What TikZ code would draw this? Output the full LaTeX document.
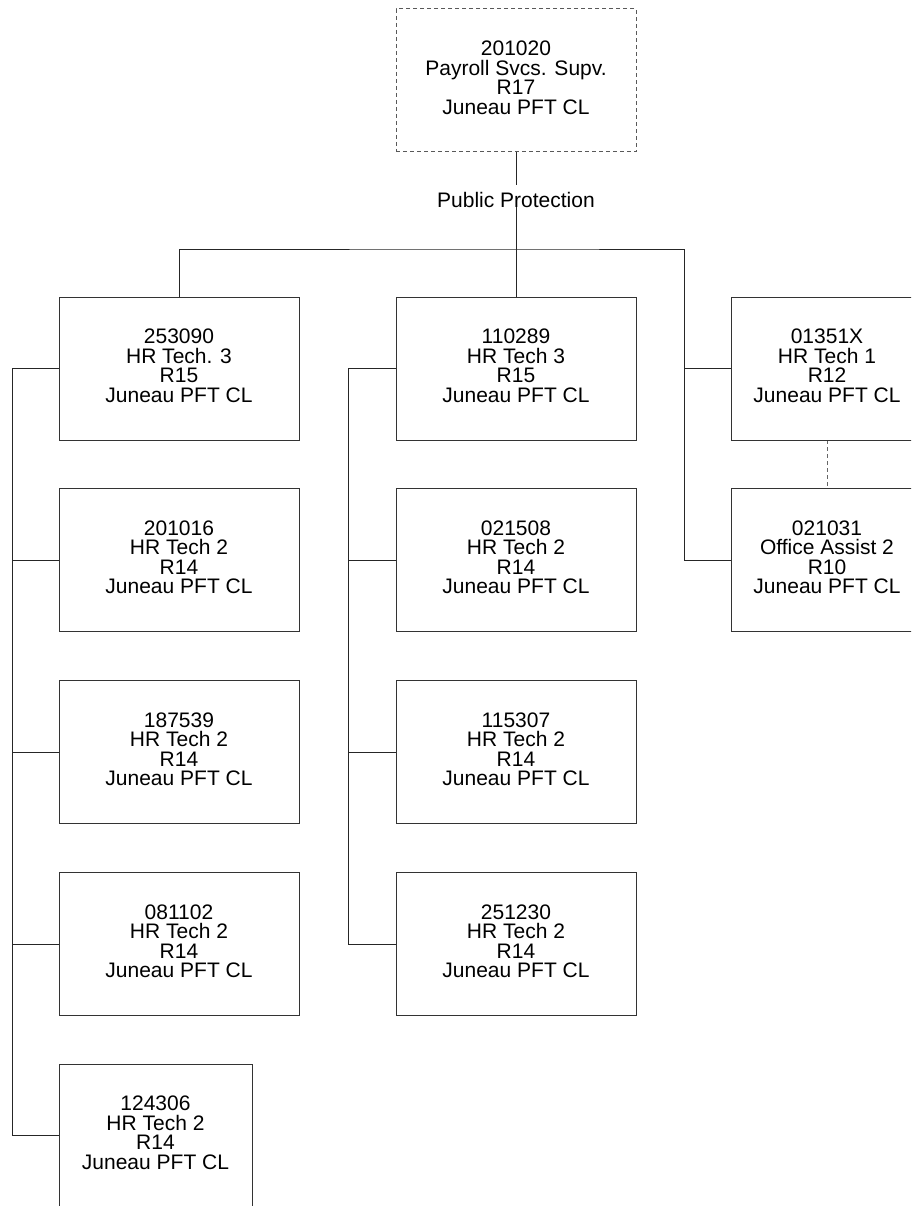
\documentclass[tikz,border=0pt]{standalone}
\usepackage{fontspec}
\setmainfont{Liberation Sans}
\usetikzlibrary{backgrounds}
\begin{document}
\begin{tikzpicture}[x=1pt,y=-1pt,
  every node/.style={font=\fontsize{21}{19.5}\selectfont, align=center, inner sep=0pt, outer sep=0pt},
  posbox/.style={draw=black!80, line width=1pt, minimum width=240pt, minimum height=143pt, text depth=5.5pt},
  narrowbox/.style={posbox, minimum width=193pt},
  conn/.style={draw=black!85, line width=1pt},
  dashconn/.style={draw=black!60, line width=1pt, dash pattern=on 4pt off 3pt}]
\useasboundingbox (0,0) rectangle (911,1206);
\clip (0,0) rectangle (911,1206);
% top
\node[posbox, draw=black!65, dash pattern=on 4pt off 3pt] (top) at (516,80.5) {201020\\Payroll Svcs. Supv.\\R17\\Juneau PFT CL};
\node[text height=15pt, text depth=0pt, fill=white] (lab) at (516,200) {Public Protection};
% left column
\node[posbox] (a1) at (179,368.5) {253090\\HR Tech. 3\\R15\\Juneau PFT CL};
\node[posbox] (a2) at (179,560) {201016\\HR Tech 2\\R14\\Juneau PFT CL};
\node[posbox] (a3) at (179,752) {187539\\HR Tech 2\\R14\\Juneau PFT CL};
\node[posbox] (a4) at (179,944) {081102\\HR Tech 2\\R14\\Juneau PFT CL};
\node[narrowbox] (a5) at (155.5,1135.5) {124306\\HR Tech 2\\R14\\Juneau PFT CL};
% middle column
\node[posbox] (m1) at (516,368.5) {110289\\HR Tech 3\\R15\\Juneau PFT CL};
\node[posbox] (m2) at (516,560) {021508\\HR Tech 2\\R14\\Juneau PFT CL};
\node[posbox] (m3) at (516,752) {115307\\HR Tech 2\\R14\\Juneau PFT CL};
\node[posbox] (m4) at (516,944) {251230\\HR Tech 2\\R14\\Juneau PFT CL};
% right column
\node[narrowbox, minimum width=192pt] (r1) at (827,368.5) {01351X\\HR Tech 1\\R12\\Juneau PFT CL};
\node[narrowbox, minimum width=192pt] (r2) at (827,560) {021031\\Office Assist 2\\R10\\Juneau PFT CL};
% coordinates
\coordinate (bus) at (516,249);
\coordinate (ltrunk) at (12,1135.5);
\coordinate (mtrunk) at (348,944);
\coordinate (rtrunk) at (684,560);
% connectors
\begin{pgfonlayer}{background}
\draw[conn] (top.south) -- ([yshift=7pt]lab.north);
\draw[conn] (lab.south) -- (m1.north);
\draw[conn] (a1.north) |- (bus) -| (rtrunk) -- (r2.west);
\draw[conn] (r1.west) -- (r1.west -| rtrunk);
\draw[conn] (a1.west) -| (ltrunk) -- (a5.west);
\draw[conn] (a2.west) -- (a2.west -| ltrunk);
\draw[conn] (a3.west) -- (a3.west -| ltrunk);
\draw[conn] (a4.west) -- (a4.west -| ltrunk);
\draw[conn] (m1.west) -| (mtrunk) -- (m4.west);
\draw[conn] (m2.west) -- (m2.west -| mtrunk);
\draw[conn] (m3.west) -- (m3.west -| mtrunk);
\draw[dashconn] (r1.south) -- (r2.north);
\end{pgfonlayer}
\end{tikzpicture}
\end{document}
